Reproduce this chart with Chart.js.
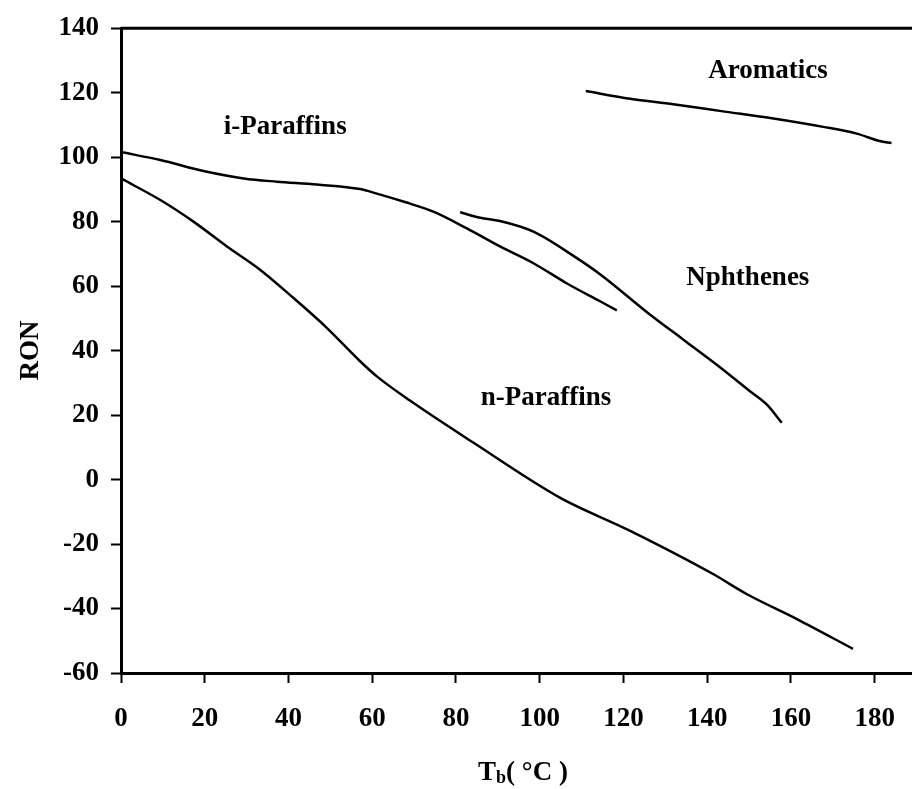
<!DOCTYPE html>
<html>
<head>
<meta charset="utf-8">
<script src="https://cdn.jsdelivr.net/npm/chart.js@4.4.0/dist/chart.umd.min.js"></script>
<style>
  html, body { margin: 0; padding: 0; background: #fff; overflow: hidden; }
  #wrap { width: 912px; height: 789px; }
</style>
</head>
<body>
<div id="wrap"><canvas id="ronChart"></canvas></div>
<script>
// values (Tb in °C, RON)
const nParaffinsTb  = [0, 9.4, 17.3, 25.3, 33.2, 41.2, 49.2, 57.1, 61.1, 69, 84.2, 104.8, 121.6, 141.4, 149.4, 161.3, 174.8];
const nParaffinsRon = [93.4, 86.7, 80, 72.3, 65.1, 56.3, 47, 36.7, 32, 24.5, 11.4, -5.6, -15.9, -29.3, -35.5, -43.2, -52.5];

const iParaffinsTb  = [0, 9.4, 19.7, 29.3, 37.2, 46.8, 57.1, 61.1, 68, 74.6, 82.6, 90.5, 98.5, 106.4, 114.4, 118.4];
const iParaffinsRon = [101.6, 99.1, 95.7, 93.4, 92.4, 91.5, 90.1, 88.7, 86, 83.1, 77.9, 72.3, 67.1, 60.9, 55.3, 52.5];

const naphthenesTb  = [81, 85.8, 90.5, 98.5, 108.5, 114.4, 126.3, 134.3, 142.2, 150.2, 154.2, 157.8];
const naphthenesRon = [82.9, 81.2, 80.2, 76.9, 69, 63.7, 51.2, 43.4, 35.7, 27.4, 23.3, 17.6];

const aromaticsTb   = [111, 121.6, 131.9, 143.8, 155.8, 167.7, 175.7, 181.2, 184];
const aromaticsRon  = [120.5, 118.1, 116.4, 114.2, 112, 109.4, 107.3, 105, 104.4];

const xTicks = [0, 20, 40, 60, 80, 100, 120, 140, 160, 180];
const yTicks = [-60, -40, -20, 0, 20, 40, 60, 80, 100, 120, 140];

// curve names and where they sit (data units)
const labelNames = ["i-Paraffins", "Aromatics", "Nphthenes", "n-Paraffins"];
const labelTb    = [39.2, 154.5, 149.7, 101.5];
const labelRon   = [109.5, 126.7, 62.5, 25.3];

const FONT = "'Liberation Serif', 'Times New Roman', serif";

const toPoints = (xs, ys) => xs.map((x, i) => ({ x, y: ys[i] }));

const lineStyle = {
  showLine: true,
  borderColor: "#000",
  borderWidth: 2.5,
  pointRadius: 0,
  fill: false,
  cubicInterpolationMode: "monotone"
};

// curve labels, top frame line and the x title with its subscript
const extras = {
  id: "extras",
  afterDraw(chart) {
    const { ctx, chartArea, scales } = chart;
    ctx.save();

    ctx.strokeStyle = "#000";
    ctx.lineWidth = 3;
    ctx.beginPath();
    ctx.moveTo(chartArea.left, chartArea.top);
    ctx.lineTo(chartArea.right, chartArea.top);
    ctx.stroke();

    ctx.fillStyle = "#000";
    ctx.font = "bold 27px " + FONT;
    ctx.textAlign = "center";
    ctx.textBaseline = "middle";
    labelNames.forEach((name, i) => {
      ctx.fillText(name, scales.x.getPixelForValue(labelTb[i]), scales.y.getPixelForValue(labelRon[i]));
    });

    // T_b( °C )
    const big = "bold 27px " + FONT;
    const small = "bold 18px " + FONT;
    const rest = "( \u00B0C )";
    ctx.font = big;
    const wT = ctx.measureText("T").width;
    const wRest = ctx.measureText(rest).width;
    ctx.font = small;
    const wb = ctx.measureText("b").width;
    const total = wT + wb + wRest;
    let x = 523 - total / 2;
    const y = chart.height - 9;
    ctx.textAlign = "left";
    ctx.textBaseline = "alphabetic";
    ctx.font = big;
    ctx.fillText("T", x, y);
    x += wT;
    ctx.font = small;
    ctx.fillText("b", x, y + 3);
    x += wb;
    ctx.font = big;
    ctx.fillText(rest, x, y);

    ctx.restore();
  }
};

new Chart(document.getElementById("ronChart"), {
  type: "scatter",
  data: {
    datasets: [
      { label: "n-Paraffins", data: toPoints(nParaffinsTb, nParaffinsRon), ...lineStyle },
      { label: "i-Paraffins", data: toPoints(iParaffinsTb, iParaffinsRon), ...lineStyle },
      { label: "Nphthenes", data: toPoints(naphthenesTb, naphthenesRon), ...lineStyle },
      { label: "Aromatics", data: toPoints(aromaticsTb, aromaticsRon), ...lineStyle }
    ]
  },
  options: {
    responsive: true,
    maintainAspectRatio: false,
    animation: false,
    layout: { padding: { top: 26, right: 0, bottom: 0, left: 0 } },
    plugins: {
      legend: { display: false },
      tooltip: { enabled: false }
    },
    scales: {
      x: {
        type: "linear",
        min: 0,
        max: 188.9,
        afterFit: s => { s.height = 116; s.paddingRight = 0; },
        afterBuildTicks: s => { s.ticks = xTicks.map(v => ({ value: v })); },
        ticks: {
          autoSkip: false,
          maxRotation: 0,
          color: "#000",
          padding: 20,
          font: { family: FONT, size: 27, weight: "bold" }
        },
        grid: {
          drawOnChartArea: false,
          drawTicks: true,
          tickLength: 10,
          tickWidth: 2,
          tickColor: "#000"
        },
        border: { color: "#000", width: 3 }
      },
      y: {
        min: -60,
        max: 140,
        afterFit: s => { s.width = 121; },
        afterBuildTicks: s => { s.ticks = yTicks.map(v => ({ value: v })); },
        ticks: {
          autoSkip: false,
          color: "#000",
          padding: 12,
          font: { family: FONT, size: 27, weight: "bold" }
        },
        grid: {
          drawOnChartArea: false,
          drawTicks: true,
          tickLength: 10,
          tickWidth: 2,
          tickColor: "#000"
        },
        border: { color: "#000", width: 3 },
        title: {
          display: true,
          text: "RON",
          color: "#000",
          padding: { top: 15, bottom: 0 },
          font: { family: FONT, size: 27, weight: "bold" }
        }
      }
    }
  },
  plugins: [extras]
});
</script>
</body>
</html>
